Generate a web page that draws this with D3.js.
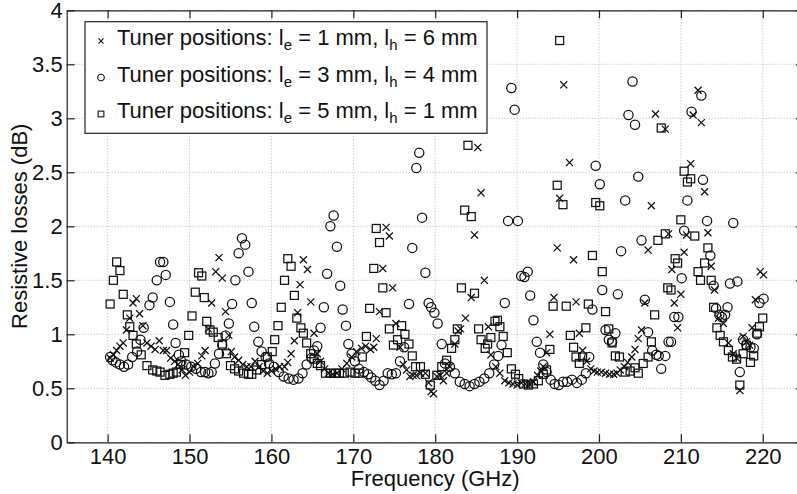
<!DOCTYPE html>
<html>
<head>
<meta charset="utf-8">
<script src="https://cdn.jsdelivr.net/npm/d3@7"></script>
<style>
  body { margin: 0; background: #fff; }
  svg text { font-family: "Liberation Sans", Arial, sans-serif; fill: #111; }
</style>
</head>
<body>
<svg id="chart"></svg>
<script>
// === Resistive losses vs frequency, three tuner positions ===

// --- Data: [frequency GHz, loss dB] ---
const crossesE1H6 = [
  [140.3,0.78],[140.7,0.81],[141.1,0.85],[141.5,0.89],[141.9,0.92],[142.3,1.04],[142.7,1.15],[143.1,1.29],
  [143.5,1.33],[143.9,1.19],[144.3,1.08],[144.8,0.92],[145.3,0.89],[145.8,0.86],[146.3,0.94],[146.8,0.85],
  [147.2,0.85],[147.7,0.78],[148.2,0.75],[148.6,0.72],[149.1,0.67],[149.5,0.62],[150.0,0.65],[150.5,0.70],
  [151.0,0.73],[151.5,0.80],[151.9,0.85],[152.3,1.05],[152.7,1.29],[153.2,1.58],[153.6,1.71],[154.0,1.52],
  [154.4,1.21],[154.8,0.99],[155.1,0.84],[155.5,0.79],[156.0,0.76],[156.5,0.72],[157.0,0.70],[157.5,0.70],
  [158.0,0.75],[158.5,0.70],[159.0,0.66],[159.5,0.64],[160.0,0.66],[160.5,0.68],[161.0,0.70],[161.6,0.70],
  [162.0,0.74],[162.4,0.82],[162.8,0.94],[163.2,1.20],[163.5,1.46],[163.9,1.69],[164.4,1.60],[164.8,1.30],
  [165.2,1.01],[165.6,0.82],[166.0,0.75],[166.5,0.68],[167.0,0.64],[167.5,0.63],[168.0,0.64],[168.6,0.68],
  [169.2,0.73],[169.8,0.79],[170.4,0.84],[171.0,0.87],[171.5,0.89],[172.1,0.86],[172.5,0.88],[172.8,0.96],
  [173.2,1.21],[173.6,1.61],[174.0,1.99],[174.4,1.91],[174.8,1.43],[175.2,1.10],[175.7,0.88],[176.1,0.72],
  [176.5,0.67],[176.9,0.61],[177.3,0.62],[177.7,0.62],[178.2,0.64],[178.8,0.64],[179.2,0.55],[179.5,0.47],
  [179.8,0.45],[180.2,0.61],[180.6,0.62],[181.0,0.57],[181.4,0.64],[181.8,0.70],[182.4,0.91],[182.8,1.03],
  [183.1,1.05],[183.7,1.15],[184.4,1.34],[184.8,1.92],[185.2,2.73],[185.6,2.31],[186.0,1.50],[186.5,1.07],
  [186.8,0.81],[187.4,0.70],[187.9,0.64],[188.5,0.57],[189.0,0.55],[189.5,0.54],[190.0,0.53],[190.5,0.55],
  [191.0,0.54],[191.5,0.54],[192.0,0.56],[192.5,0.62],[192.9,0.66],[193.2,0.70],[193.6,0.83],[194.0,1.00],
  [194.5,1.34],[194.9,1.80],[195.2,2.26],[195.7,3.31],[196.4,2.59],[196.9,1.69],[197.2,1.30],[197.6,1.01],
  [198.0,0.85],[198.5,0.75],[199.0,0.68],[199.4,0.66],[199.8,0.65],[200.3,0.65],[200.8,0.64],[201.3,0.63],
  [201.8,0.63],[202.2,0.64],[202.6,0.67],[203.1,0.70],[203.5,0.74],[204.0,0.79],[204.4,0.86],[204.8,0.96],
  [205.2,1.04],[205.6,1.29],[206.0,1.78],[206.4,2.19],[206.9,3.04],[208.1,2.90],[208.5,1.93],[208.9,1.60],
  [209.2,1.29],[209.6,1.06],[210.0,1.37],[210.4,1.76],[210.7,1.92],[211.2,2.58],[211.5,3.03],[212.1,3.26],
  [212.5,2.96],[212.9,2.32],[213.3,1.94],[213.7,1.63],[214.1,1.41],[214.6,1.15],[215.2,1.10],[215.8,0.92],
  [216.4,0.82],[216.8,0.78],[217.2,0.48],[217.6,0.98],[218.0,0.93],[218.4,0.90],[218.7,1.06],[219.1,1.32],
  [219.7,1.58],[220.1,1.55]
];

const circlesE3H4 = [
  [140.3,0.79],[140.6,0.76],[141.0,0.74],[141.5,0.72],[142.0,0.70],[142.5,0.72],[143.0,0.79],[143.6,0.84],
  [144.0,0.95],[144.4,1.06],[145.1,1.27],[145.5,1.34],[146.0,1.50],[146.4,1.67],[146.8,1.67],[147.1,1.55],
  [147.6,1.30],[148.0,1.09],[148.3,0.92],[148.7,0.81],[149.0,0.75],[149.6,0.72],[150.2,0.70],[150.8,0.68],
  [151.4,0.65],[151.9,0.65],[152.3,0.64],[152.7,0.65],[153.1,0.73],[153.6,0.82],[154.0,0.90],[154.4,0.99],
  [154.8,1.10],[155.2,1.28],[155.6,1.50],[156.0,1.75],[156.4,1.89],[156.8,1.83],[157.2,1.58],[157.6,1.29],
  [157.9,1.07],[158.4,0.93],[158.8,0.84],[159.3,0.79],[159.7,0.73],[160.3,0.70],[160.9,0.65],[161.5,0.61],
  [162.1,0.59],[162.7,0.58],[163.3,0.59],[163.8,0.64],[164.3,0.72],[164.9,0.78],[165.2,0.85],[165.6,0.89],
  [166.0,1.06],[166.4,1.25],[166.8,1.56],[167.2,2.00],[167.6,2.10],[168.0,1.81],[168.4,1.45],[168.7,1.23],
  [169.1,1.08],[169.4,0.91],[169.8,0.82],[170.2,0.75],[170.7,0.68],[171.3,0.65],[171.8,0.63],[172.2,0.60],
  [172.7,0.57],[173.2,0.53],[173.7,0.57],[174.2,0.64],[174.7,0.63],[175.2,0.64],[175.7,0.75],[176.2,0.88],
  [176.8,1.28],[177.2,1.80],[177.7,2.54],[178.05,2.68],[178.4,2.08],[178.8,1.57],[179.2,1.29],[179.5,1.25],
  [179.9,1.20],[180.3,1.10],[180.8,0.91],[181.2,0.73],[181.8,0.70],[182.4,0.64],[183.0,0.56],[183.6,0.54],
  [184.2,0.52],[184.8,0.54],[185.4,0.56],[186.0,0.59],[186.6,0.64],[187.2,0.72],[187.7,0.80],[188.1,0.90],
  [188.5,1.29],[188.9,2.05],[189.3,3.28],[189.7,3.08],[190.1,2.05],[190.5,1.54],[190.9,1.53],[191.3,1.58],
  [191.6,1.36],[192.0,1.13],[192.4,0.93],[192.8,0.83],[193.2,0.72],[193.6,0.65],[194.1,0.58],[194.6,0.54],
  [195.1,0.53],[195.6,0.56],[196.1,0.56],[196.7,0.58],[197.3,0.55],[197.9,0.58],[198.4,0.64],[198.8,0.79],
  [199.2,1.23],[199.6,2.56],[200.1,2.39],[200.4,1.41],[200.8,1.04],[201.2,0.95],[201.6,0.93],[202.0,1.01],
  [202.3,1.37],[202.7,1.77],[203.2,2.24],[203.6,3.03],[204.1,3.34],[204.4,2.94],[204.8,2.46],[205.2,1.87],
  [205.6,1.32],[206.0,1.02],[206.5,0.85],[207.0,0.81],[207.3,0.80],[207.6,0.68],[208.1,0.80],[208.5,0.93],
  [208.8,0.93],[209.2,1.16],[209.7,1.16],[210.1,1.52],[210.4,1.96],[210.8,2.24],[211.3,3.06],[212.5,3.21],
  [212.7,2.43],[213.2,2.05],[213.6,1.73],[214.0,1.45],[214.3,1.24],[214.7,1.18],[215.0,1.16],[215.4,1.18],
  [215.7,1.25],[216.0,1.47],[216.4,2.03],[216.9,1.49],[217.2,0.65],[217.6,0.95],[218.0,0.90],[218.5,0.88],
  [218.9,0.87],[219.3,1.00],[219.6,1.29],[220.1,1.33]
];

const squaresE5H1 = [
  [140.3,1.28],[140.7,1.50],[141.1,1.67],[141.5,1.59],[141.9,1.37],[142.4,1.18],[142.7,1.07],[143.1,0.99],
  [143.5,0.91],[144.1,0.81],[144.8,0.71],[145.5,0.67],[146.0,0.66],[146.4,0.65],[147.0,0.62],[147.6,0.63],
  [148.0,0.64],[148.4,0.65],[148.9,0.72],[149.4,0.83],[149.9,0.99],[150.3,1.17],[150.7,1.39],[151.1,1.57],
  [151.5,1.54],[151.8,1.34],[152.1,1.12],[152.5,1.04],[152.9,1.02],[153.5,0.97],[154.0,0.91],[154.5,0.82],
  [155.0,0.71],[155.5,0.68],[156.0,0.66],[156.6,0.64],[157.2,0.63],[157.6,0.63],[158.2,0.67],[158.8,0.72],
  [159.5,0.79],[160.1,0.84],[160.4,0.95],[160.8,1.08],[161.2,1.25],[161.6,1.50],[162.0,1.70],[162.4,1.63],
  [162.8,1.36],[163.1,1.15],[163.6,1.06],[163.9,1.01],[164.3,0.92],[164.8,0.82],[165.2,0.77],[165.6,0.73],
  [166.0,0.71],[166.6,0.64],[167.2,0.64],[167.8,0.64],[168.3,0.64],[168.9,0.64],[169.6,0.65],[170.2,0.64],
  [170.7,0.64],[171.1,0.79],[171.6,0.98],[172.0,1.24],[172.5,1.61],[172.8,1.98],[173.2,1.85],[173.6,1.43],
  [174.0,1.20],[174.4,1.05],[174.9,0.90],[175.4,0.95],[175.9,1.08],[176.3,1.00],[176.8,0.91],[177.2,0.80],
  [177.6,0.70],[178.2,0.70],[178.8,0.63],[179.4,0.53],[180.2,0.62],[180.8,0.70],[181.4,0.76],[182.0,0.87],
  [182.4,0.95],[182.7,1.05],[183.2,1.43],[183.6,2.15],[184.0,2.75],[184.4,2.09],[184.8,1.38],[185.3,1.05],
  [185.6,0.95],[186.1,0.87],[186.4,0.91],[186.8,0.97],[187.3,1.12],[187.6,1.13],[187.9,1.07],[188.3,0.98],
  [188.8,0.83],[189.3,0.68],[189.8,0.63],[190.2,0.59],[190.8,0.54],[191.4,0.53],[192.0,0.54],[192.6,0.57],
  [193.2,0.63],[193.6,0.67],[194.0,0.86],[194.4,1.26],[194.9,2.38],[195.2,3.72],[195.6,2.20],[196.0,1.26],
  [196.5,0.99],[196.9,0.88],[197.2,0.79],[197.6,0.73],[198.0,0.79],[198.4,1.06],[198.7,1.28],[199.2,1.73],
  [199.6,2.22],[200.1,2.19],[200.4,1.58],[200.8,1.21],[201.2,1.05],[201.6,0.92],[202.0,0.80],[202.5,0.79],
  [203.2,0.65],[203.8,0.66],[204.4,0.69],[204.8,0.64],[205.4,0.73],[206.0,0.79],[206.4,0.93],[206.8,1.18],
  [207.2,1.87],[207.6,2.91],[208.1,1.93],[208.4,1.43],[208.8,1.41],[209.3,1.70],[209.6,1.66],[210.0,2.06],
  [210.4,2.51],[210.8,2.41],[211.2,2.44],[211.7,1.91],[212.1,1.58],[212.4,1.50],[212.9,1.66],[213.3,1.80],
  [213.7,1.50],[214.0,1.25],[214.4,1.06],[214.8,0.99],[215.2,0.93],[215.8,0.85],[216.3,0.79],[216.8,0.77],
  [217.2,0.53],[217.6,0.82],[218.0,0.90],[218.5,0.74],[218.9,0.80],[219.3,1.01],[219.6,1.07],[220.0,1.15]
];

const xTicks = [140, 150, 160, 170, 180, 190, 200, 210, 220];
const yTicks = [0, 0.5, 1, 1.5, 2, 2.5, 3, 3.5, 4];
const legendRows = [
  { marker: "cross",  e: "1", h: "6" },
  { marker: "circle", e: "3", h: "4" },
  { marker: "square", e: "5", h: "1" }
];

// --- Layout ---
const WIDTH = 797, HEIGHT = 494;
const FONT_SIZE = 22;
const INK = "#111";
const plot = { left: 66.7, right: 803.7, top: 10.3, bottom: 442.3 };

const svg = d3.select("#chart").attr("width", WIDTH).attr("height", HEIGHT);

const x = d3.scaleLinear().domain([135, 225]).range([plot.left, plot.right]);
const y = d3.scaleLinear().domain([0, 4]).range([plot.bottom, plot.top]);

// --- Marker shapes ---
function drawMarker(sel, kind, size) {
  if (kind === "circle") {
    sel.append("circle").attr("r", size * 0.55);
  } else if (kind === "square") {
    const s = size * 0.95;
    sel.append("rect").attr("x", -s / 2).attr("y", -s / 2).attr("width", s).attr("height", s);
  } else {
    const a = size * 0.42;
    sel.append("path").attr("d", `M${-a},${-a}L${a},${a}M${-a},${a}L${a},${-a}`);
  }
}

// --- Grid (dotted, MATLAB style) ---
const grid = svg.append("g")
  .attr("stroke", "#a8a8a8").attr("stroke-width", 0.8).attr("stroke-dasharray", "1,2");
grid.selectAll(".vx").data(xTicks).join("line")
  .attr("x1", d => x(d)).attr("x2", d => x(d))
  .attr("y1", plot.top).attr("y2", plot.bottom);
grid.selectAll(".hy").data(yTicks).join("line")
  .attr("x1", plot.left).attr("x2", plot.right)
  .attr("y1", d => y(d)).attr("y2", d => y(d));

// --- Series ---
const seriesList = [
  { kind: "cross",  data: crossesE1H6 },
  { kind: "circle", data: circlesE3H4 },
  { kind: "square", data: squaresE5H1 }
];
seriesList.forEach(s => {
  svg.append("g")
    .attr("fill", "none").attr("stroke", INK).attr("stroke-width", 1.25)
    .selectAll("g").data(s.data).join("g")
    .attr("transform", d => `translate(${x(d[0])},${y(d[1])})`)
    .each(function() { drawMarker(d3.select(this), s.kind, 8.4); });
});

// --- Axes: ticks point inward, box on top and right ---
function styleAxis(g) {
  g.selectAll("path, line").attr("stroke", "#222").attr("stroke-width", 1.2);
  g.selectAll("text").attr("font-size", FONT_SIZE).attr("fill", INK);
}

svg.append("g").attr("transform", `translate(0,${plot.bottom})`)
  .call(d3.axisBottom(x).tickValues(xTicks).tickSize(-8).tickSizeOuter(0).tickPadding(6))
  .call(styleAxis);
svg.append("g").attr("transform", `translate(0,${plot.top})`)
  .call(d3.axisTop(x).tickValues(xTicks).tickSize(-8).tickSizeOuter(0).tickFormat(""))
  .call(styleAxis);
svg.append("g").attr("transform", `translate(${plot.left},0)`)
  .call(d3.axisLeft(y).tickValues(yTicks).tickSize(-8).tickSizeOuter(0).tickPadding(4).tickFormat(d => String(d)))
  .call(styleAxis);
svg.append("g").attr("transform", `translate(${plot.right},0)`)
  .call(d3.axisRight(y).tickValues(yTicks).tickSize(-8).tickSizeOuter(0).tickFormat(""))
  .call(styleAxis);

// --- Axis titles ---
svg.append("text")
  .attr("x", (plot.left + plot.right) / 2).attr("y", 486)
  .attr("text-anchor", "middle").attr("font-size", FONT_SIZE)
  .text("Frequency (GHz)");
svg.append("text")
  .attr("transform", `translate(27,${(plot.top + plot.bottom) / 2}) rotate(-90)`)
  .attr("text-anchor", "middle").attr("font-size", FONT_SIZE)
  .text("Resistive losses (dB)");

// --- Legend ---
const legend = svg.append("g");
legend.append("rect")
  .attr("x", 85).attr("y", 21.7).attr("width", 402).attr("height", 111.6)
  .attr("fill", "#fff").attr("stroke", "#222").attr("stroke-width", 1.2);

const rowY = d3.scalePoint().domain(legendRows.map((r, i) => i)).range([41, 114]);
legendRows.forEach((r, i) => {
  legend.append("g")
    .attr("transform", `translate(101,${rowY(i)})`)
    .attr("fill", "none").attr("stroke", INK).attr("stroke-width", 1.1)
    .call(g => drawMarker(g, r.marker, 6));

  const t = legend.append("text")
    .attr("x", 117).attr("y", rowY(i) + 4)
    .attr("font-size", FONT_SIZE);
  t.append("tspan").text("Tuner positions: l");
  t.append("tspan").attr("font-size", 15).attr("dy", 5).text("e");
  t.append("tspan").attr("dy", -5).text(` = ${r.e} mm, l`);
  t.append("tspan").attr("font-size", 15).attr("dy", 5).text("h");
  t.append("tspan").attr("dy", -5).text(` = ${r.h} mm`);
});
</script>
</body>
</html>
